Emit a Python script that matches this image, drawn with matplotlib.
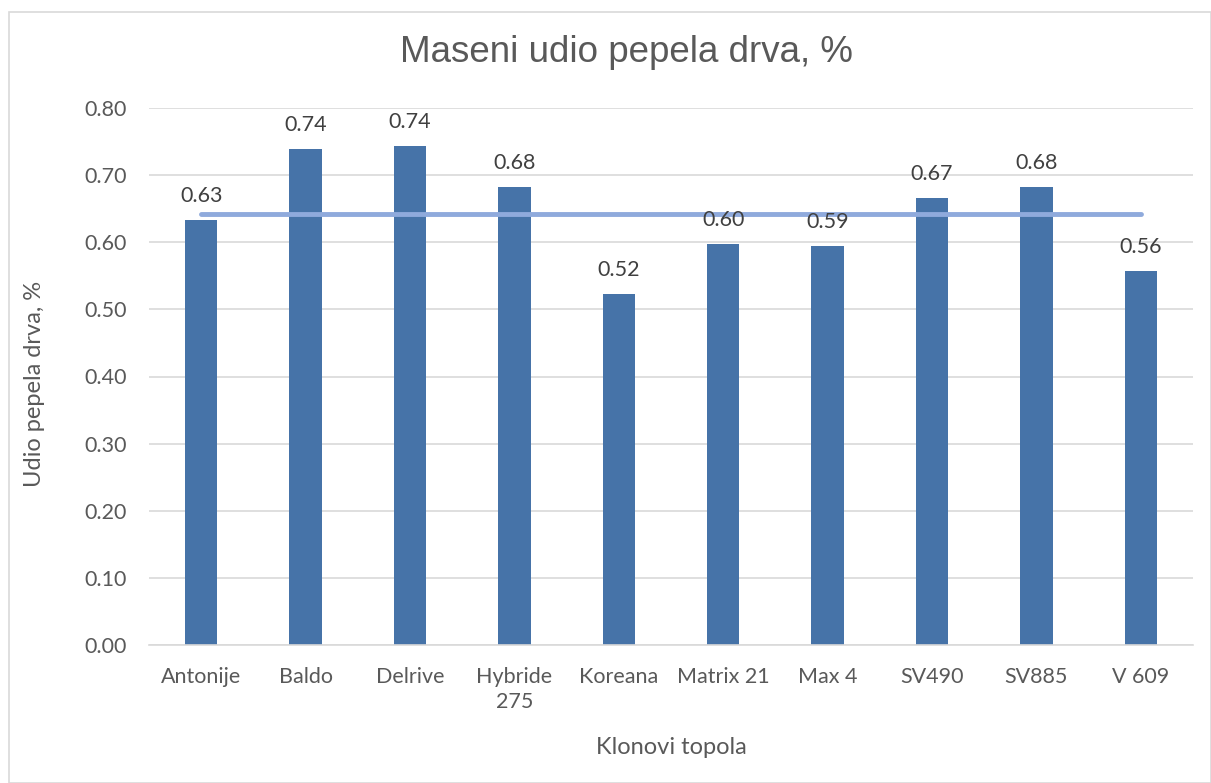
import matplotlib
matplotlib.use("Agg")
import matplotlib.pyplot as plt
from matplotlib.patches import Rectangle

categories = ["Antonije", "Baldo", "Delrive", "Hybride\n275", "Koreana",
              "Matrix 21", "Max 4", "SV490", "SV885", "V 609"]
values = [0.633, 0.739, 0.743, 0.683, 0.523, 0.597, 0.594, 0.666, 0.683, 0.557]
mean_value = sum(values) / len(values)
yticks = [0.0, 0.1, 0.2, 0.3, 0.4, 0.5, 0.6, 0.7, 0.8]

TXT = "#595959"
BAR = "#4673A8"
LINE = "#8FAADC"
plt.rcParams['font.family'] = ['Lato', 'DejaVu Sans']

fig = plt.figure(figsize=(12.11, 7.83), dpi=100)
fig.patches.append(Rectangle((9/1211, 0), 1 - 9/1211, 1 - 12/783, transform=fig.transFigure,
                             fill=False, edgecolor="#D9D9D9", linewidth=1.2))
ax = fig.add_axes([149/1211, 1 - 645/783, (1193 - 149)/1211, (645 - 108)/783])

x = list(range(len(categories)))
ax.bar(x, values, width=0.31, color=BAR, zorder=2)
ax.plot([x[0], x[-1]], [mean_value, mean_value], color=LINE, linewidth=3.5,
        solid_capstyle="round", zorder=3)
for xi, v in zip(x, values):
    ax.annotate(f"{v:.2f}", (xi, v), xytext=(0, 10), textcoords="offset points",
                ha="center", va="bottom", fontsize=15.5, color="#404040")

ax.set_xlim(-0.5, len(categories) - 0.5)
ax.set_ylim(0, 0.8)
ax.set_yticks(yticks)
ax.set_yticklabels([f"{t:.2f}" for t in yticks])
ax.set_xticks(x)
ax.set_xticklabels(categories, linespacing=1.3)
ax.tick_params(axis="both", length=0, labelsize=15.5, colors=TXT)
ax.tick_params(axis="y", pad=16)
ax.tick_params(axis="x", pad=16)
ax.grid(axis="y", color="#D9D9D9", linewidth=1.2, zorder=0)
ax.set_axisbelow(True)
for s in ["top", "right", "left"]:
    ax.spines[s].set_visible(False)
ax.spines["bottom"].set_color("#D9D9D9")
ax.spines["bottom"].set_linewidth(1.2)

fig.text(626/1211, 1 - 52/783, "Maseni udio pepela drva, %", ha="center", va="center",
         fontsize=26.5, color=TXT, family=["Liberation Sans", "DejaVu Sans"])
fig.text(35/1211, 1 - 384/783, "Udio pepela drva, %", rotation=90, ha="center", va="center",
         fontsize=17, color=TXT)
fig.text(671/1211, 1 - 748/783, "Klonovi topola", ha="center", va="center",
         fontsize=17, color=TXT)

fig.savefig("out.png", dpi=100)
